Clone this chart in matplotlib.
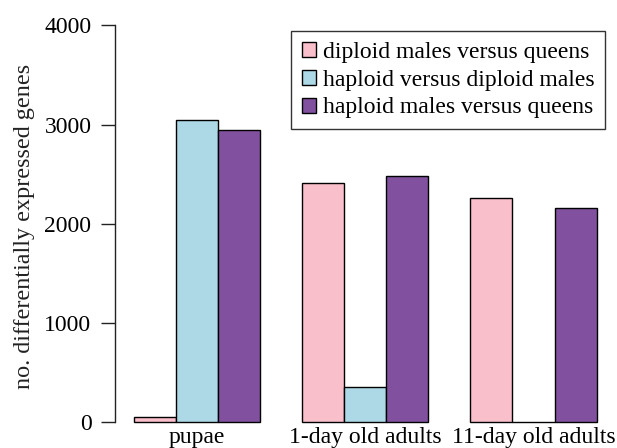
import matplotlib
matplotlib.use("Agg")
import matplotlib.pyplot as plt
import numpy as np

stages = ["pupae", "1-day old adults", "11-day old adults"]
series = ["diploid males versus queens", "haploid versus diploid males", "haploid males versus queens"]
diploid_vs_queens = [55, 2410, 2255]
haploid_vs_diploid = [3045, 355, 0]
haploid_vs_queens = [2950, 2480, 2155]
yticks = [0, 1000, 2000, 3000, 4000]
colors = ["#F9BFCB", "#ADD8E6", "#8151A0"]

plt.rcParams['font.family'] = ['Liberation Serif', 'DejaVu Serif']

fig = plt.figure(figsize=(6.17, 4.48), dpi=100)
ax = fig.add_axes([115/617, 1 - 437.9/448, (615.2 - 115)/617, (437.9 - 9.6)/448])

values = [diploid_vs_queens, haploid_vs_diploid, haploid_vs_queens]
ng = len(stages)
for j, (vals, name, c) in enumerate(zip(values, series, colors)):
    x = np.arange(ng) * 4 + 1.5 + j
    ax.bar(x, vals, width=1.0, color=c, edgecolor="black", linewidth=1.0, label=name)

ax.set_xlim(0.56, 12.44)
ax.set_ylim(-160, 4160)
for s in ["top", "right", "bottom"]:
    ax.spines[s].set_visible(False)
ax.spines["left"].set_bounds(0, 4000)
ax.spines["left"].set_linewidth(1.0)
ax.spines["left"].set_color("#222222")
ax.set_yticks(yticks)
ax.set_yticklabels([str(t) for t in yticks])
ax.tick_params(axis="y", length=10, width=1.0, pad=7, labelsize=17, color="#222222")

centers = np.arange(ng) * 4 + 2.5
ax.set_xticks(centers)
ax.set_xticklabels(stages)
ax.tick_params(axis="x", length=0, pad=4, labelsize=17)
for lab in ax.get_xticklabels():
    lab.set_va("baseline")

fig.text(25/617, 1 - 226/448, "no. differentially expressed genes", rotation=90,
         ha="center", va="center", fontsize=17.4, color="#222222")

leg = ax.legend(loc="upper right", bbox_to_anchor=(605/617, 1 - 31.5/448),
                bbox_transform=fig.transFigure, borderaxespad=0, fontsize=17,
                handlelength=0.6, handleheight=0.6, handletextpad=0.3,
                labelspacing=0.28, borderpad=0.45, fancybox=False, framealpha=1,
                edgecolor="#333333")
leg.get_frame().set_linewidth(1.0)

fig.savefig("out.png", dpi=100)
